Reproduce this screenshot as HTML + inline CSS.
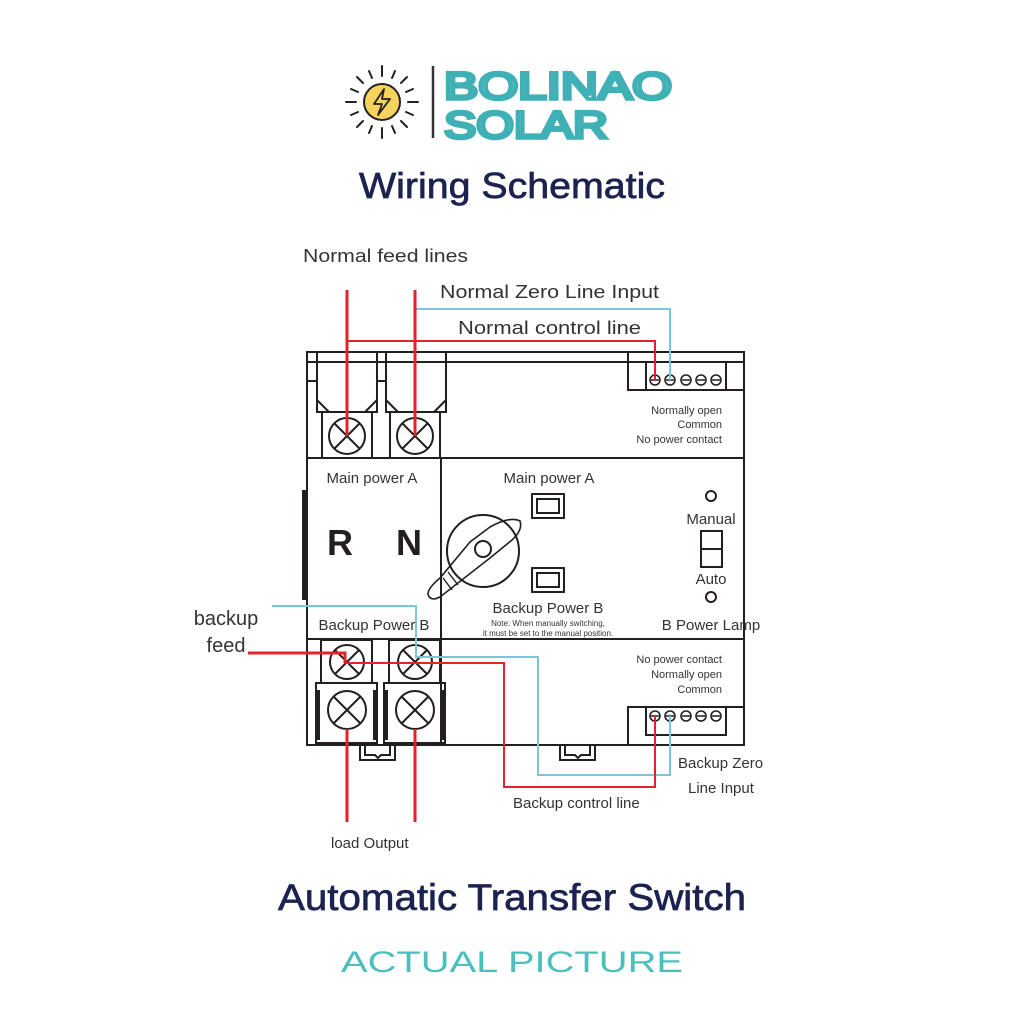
<!DOCTYPE html>
<html><head><meta charset="utf-8"><style>
html,body{margin:0;padding:0;background:#fff;}
svg{display:block;}
text{font-family:"Liberation Sans",sans-serif;}
</style></head><body>
<svg width="1024" height="1024" viewBox="0 0 1024 1024" xmlns="http://www.w3.org/2000/svg">
<rect width="1024" height="1024" fill="#fff"/>
<g stroke="#222" stroke-width="2" stroke-linecap="round">
<g transform="translate(382,102)">
<line x1="0" y1="-36" x2="0" y2="-26"/><line x1="0" y1="36" x2="0" y2="26"/>
<line x1="-36" y1="0" x2="-26" y2="0"/><line x1="36" y1="0" x2="26" y2="0"/>
<line x1="-25" y1="-25" x2="-19" y2="-19"/><line x1="25" y1="25" x2="19" y2="19"/>
<line x1="-25" y1="25" x2="-19" y2="19"/><line x1="25" y1="-25" x2="19" y2="-19"/>
<line x1="-13" y1="-31" x2="-10" y2="-24"/><line x1="13" y1="31" x2="10" y2="24"/>
<line x1="13" y1="-31" x2="10" y2="-24"/><line x1="-13" y1="31" x2="-10" y2="24"/>
<line x1="-31" y1="-13" x2="-24" y2="-10"/><line x1="31" y1="13" x2="24" y2="10"/>
<line x1="31" y1="-13" x2="24" y2="-10"/><line x1="-31" y1="13" x2="-24" y2="10"/>
</g></g>
<circle cx="382" cy="102" r="18" fill="#f7d25c" stroke="#222" stroke-width="2"/>
<path d="M384 89 L374 104 L382 104 L378 115 L390 99 L382 99 Z" fill="none" stroke="#222" stroke-width="1.8" stroke-linejoin="round"/>
<line x1="433" y1="66" x2="433" y2="138" stroke="#333" stroke-width="2.5"/>
<text x="444" y="99" font-size="38" fill="#fff" stroke="#3fb0b5" stroke-width="3.5" textLength="228" lengthAdjust="spacingAndGlyphs">BOLINAO</text>
<text x="444" y="138" font-size="38" fill="#fff" stroke="#3fb0b5" stroke-width="3.5" textLength="164" lengthAdjust="spacingAndGlyphs">SOLAR</text>
<text x="512" y="198" font-size="36" fill="#1c2350" stroke="#1c2350" stroke-width="0.7" text-anchor="middle" textLength="306" lengthAdjust="spacingAndGlyphs">Wiring Schematic</text>

<g fill="#333" font-size="18">
<text x="303" y="262" textLength="165" lengthAdjust="spacingAndGlyphs">Normal feed lines</text>
<text x="440" y="298" textLength="219" lengthAdjust="spacingAndGlyphs">Normal Zero Line Input</text>
<text x="458" y="334" textLength="183" lengthAdjust="spacingAndGlyphs">Normal control line</text>
<text x="226" y="625" font-size="20" text-anchor="middle">backup</text>
<text x="226" y="652" font-size="20" text-anchor="middle">feed</text>
<text x="678" y="768" font-size="15">Backup Zero</text>
<text x="688" y="793" font-size="15">Line Input</text>
<text x="513" y="808" font-size="15">Backup control line</text>
<text x="331" y="848" font-size="15">load Output</text>
</g>

<g fill="none" stroke="#231f20" stroke-width="2">
<rect x="307" y="352" width="437" height="393"/>
<line x1="307" y1="458" x2="744" y2="458"/>
<line x1="307" y1="639" x2="744" y2="639"/>
<line x1="441" y1="458" x2="441" y2="745"/>
<line x1="307" y1="362" x2="744" y2="362"/>
<rect x="317" y="352" width="60" height="60"/>
<rect x="386" y="352" width="60" height="60"/>
<line x1="307" y1="381" x2="317" y2="381"/><line x1="377" y1="381" x2="386" y2="381"/>
<path d="M317 400 L329 412 M377 400 L365 412 M386 400 L398 412 M446 400 L434 412"/>
<rect x="322" y="412" width="50" height="46"/>
<rect x="390" y="412" width="50" height="46"/>
<circle cx="347" cy="436" r="18"/><circle cx="415" cy="436" r="18"/>
<path d="M334 423 L360 449 M360 423 L334 449 M402 423 L428 449 M428 423 L402 449"/>
<rect x="321" y="640" width="51" height="43"/>
<rect x="389" y="640" width="51" height="43"/>
<circle cx="347" cy="662" r="17"/><circle cx="415" cy="662" r="17"/>
<path d="M335 650 L359 674 M359 650 L335 674 M403 650 L427 674 M427 650 L403 674"/>
<rect x="316" y="683" width="61" height="60"/>
<rect x="384" y="683" width="61" height="60"/>
<circle cx="347" cy="710" r="19"/><circle cx="415" cy="710" r="19"/>
<path d="M334 697 L360 723 M360 697 L334 723 M402 697 L428 723 M428 697 L402 723"/>
<path d="M360 745 L360 760 L395 760 L395 745 M365 745 L365 755 L375 755 L378 758 L381 755 L390 755 L390 745"/>
<path d="M560 745 L560 760 L595 760 L595 745 M565 745 L565 755 L575 755 L578 758 L581 755 L590 755 L590 745"/>
<rect x="628" y="352" width="116" height="38"/>
<rect x="646" y="362" width="80" height="28"/>
<rect x="628" y="707" width="116" height="38"/>
<rect x="646" y="707" width="80" height="28"/>
<rect x="532" y="494" width="32" height="24"/><rect x="537" y="499" width="22" height="14"/>
<rect x="532" y="568" width="32" height="24"/><rect x="537" y="573" width="22" height="14"/>
<circle cx="483" cy="551" r="36"/>
<circle cx="483" cy="549" r="8"/>
<path d="M520 521 Q523 530 512 540 L490 558 L440 597 Q430 602 428 594 Q428 588 440 578 L470 542 L490 527 Q510 516 520 521 Z" stroke-width="1.6"/>
<path d="M443 578 L452 590 M448 572 L458 585" stroke-width="1.4"/>
<circle cx="711" cy="496" r="5"/>
<rect x="701" y="531" width="21" height="36"/><line x1="701" y1="549" x2="722" y2="549"/>
<circle cx="711" cy="597" r="5"/>
</g>
<g stroke="#231f20" stroke-width="1.6" fill="#fff">
<circle cx="655" cy="380" r="5"/><circle cx="670" cy="380" r="5"/><circle cx="686" cy="380" r="5"/><circle cx="701" cy="380" r="5"/><circle cx="716" cy="380" r="5"/>
<circle cx="655" cy="716" r="5"/><circle cx="670" cy="716" r="5"/><circle cx="686" cy="716" r="5"/><circle cx="701" cy="716" r="5"/><circle cx="716" cy="716" r="5"/>
</g>
<g stroke="#231f20" stroke-width="1.5">
<line x1="651" y1="380" x2="659" y2="380"/><line x1="666" y1="380" x2="674" y2="380"/><line x1="682" y1="380" x2="690" y2="380"/><line x1="697" y1="380" x2="705" y2="380"/><line x1="712" y1="380" x2="720" y2="380"/>
<line x1="651" y1="716" x2="659" y2="716"/><line x1="666" y1="716" x2="674" y2="716"/><line x1="682" y1="716" x2="690" y2="716"/><line x1="697" y1="716" x2="705" y2="716"/><line x1="712" y1="716" x2="720" y2="716"/>
</g>
<rect x="302" y="490" width="5" height="110" fill="#231f20"/>
<rect x="316" y="690" width="4" height="50" fill="#231f20"/><rect x="373" y="690" width="4" height="50" fill="#231f20"/>
<rect x="384" y="690" width="4" height="50" fill="#231f20"/><rect x="441" y="690" width="4" height="50" fill="#231f20"/>

<g fill="#333">
<text x="372" y="483" font-size="15" text-anchor="middle">Main power A</text>
<text x="549" y="483" font-size="15" text-anchor="middle">Main power A</text>
<text x="340" y="555" font-size="36" font-weight="bold" fill="#231f20" text-anchor="middle">R</text>
<text x="409" y="555" font-size="36" font-weight="bold" fill="#231f20" text-anchor="middle">N</text>
<text x="711" y="524" font-size="15" text-anchor="middle">Manual</text>
<text x="711" y="584" font-size="15" text-anchor="middle">Auto</text>
<text x="548" y="613" font-size="15" text-anchor="middle">Backup Power B</text>
<text x="548" y="626" font-size="8" text-anchor="middle">Note: When manually switching,</text>
<text x="548" y="636" font-size="8" text-anchor="middle">it must be set to the manual position.</text>
<text x="374" y="630" font-size="15" text-anchor="middle">Backup Power B</text>
<text x="711" y="630" font-size="15" text-anchor="middle">B Power Lamp</text>
<g font-size="11" text-anchor="end">
<text x="722" y="414">Normally open</text>
<text x="722" y="428">Common</text>
<text x="722" y="443">No power contact</text>
<text x="722" y="663">No power contact</text>
<text x="722" y="678">Normally open</text>
<text x="722" y="693">Common</text>
</g>
</g>

<g fill="none" stroke-linejoin="miter">
<path d="M415 309 L670 309 L670 380" stroke="#7cc6dc" stroke-width="2"/>
<path d="M347 341 L655 341 L655 380" stroke="#e2232a" stroke-width="2"/>
<path d="M347 290 L347 436 M415 290 L415 436" stroke="#e2232a" stroke-width="3"/>
<path d="M272 606 L416 606 L416 657 L538 657 L538 775 L670 775 L670 716" stroke="#7cc6dc" stroke-width="2"/>
<path d="M345 663 L504 663 L504 787 L655 787 L655 716" stroke="#e2232a" stroke-width="2"/>
<path d="M248 653 L345 653 L345 663" stroke="#e2232a" stroke-width="3"/>
<path d="M347 729 L347 822 M415 729 L415 822" stroke="#e2232a" stroke-width="3"/>
</g>

<text x="512" y="910" font-size="37" fill="#1c2350" stroke="#1c2350" stroke-width="0.7" text-anchor="middle" textLength="468" lengthAdjust="spacingAndGlyphs">Automatic Transfer Switch</text>
<text x="512" y="972" font-size="30" fill="#4cbfbd" text-anchor="middle" textLength="342" lengthAdjust="spacingAndGlyphs">ACTUAL PICTURE</text>
</svg>
</body></html>
